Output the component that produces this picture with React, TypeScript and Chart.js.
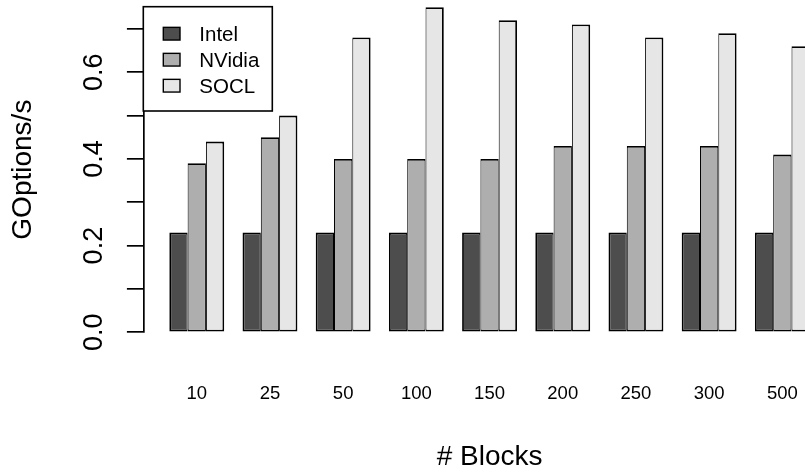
import React, { useEffect, useRef } from 'react';
import { Chart, registerables } from 'chart.js';

Chart.register(...registerables);

// ---- data ----
const blocks = ['10', '25', '50', '100', '150', '200', '250', '300', '500'];
const intel = [0.23, 0.23, 0.23, 0.23, 0.23, 0.23, 0.23, 0.23, 0.23];
const nvidia = [0.39, 0.45, 0.40, 0.40, 0.40, 0.43, 0.43, 0.43, 0.41];
const socl = [0.44, 0.50, 0.68, 0.75, 0.72, 0.71, 0.68, 0.69, 0.66];
const seriesNames = ['Intel', 'NVidia', 'SOCL'];
const seriesColors = ['#4D4D4D', '#AEAEAE', '#E6E6E6'];
const yTickValues = [0, 0.1, 0.2, 0.3, 0.4, 0.5, 0.6, 0.7];
const yLabelledTicks = [0, 0.2, 0.4, 0.6];
const xTitle = '# Blocks';
const yTitle = 'GOptions/s';

const FONT = '"Liberation Sans", Arial, Helvetica, sans-serif';
const OUT = 1.8;
const IN = 1.0;
const borderSides = [
  { left: OUT, right: IN, top: OUT, bottom: OUT },
  { left: IN, right: IN, top: OUT, bottom: OUT },
  { left: IN, right: OUT, top: OUT, bottom: OUT },
];

const rLegend = {
  id: 'rLegend',
  afterDraw(chart: any) {
    const { ctx, chartArea } = chart;
    const x0 = chartArea.left - 0.4;
    const y0 = chartArea.top - 0.3;
    const w = 129;
    const h = 104.3;
    ctx.save();
    ctx.fillStyle = '#ffffff';
    ctx.fillRect(x0, y0, w, h);
    ctx.lineWidth = 1.6;
    ctx.strokeStyle = '#000000';
    ctx.strokeRect(x0, y0, w, h);
    chart.data.datasets.forEach((ds: any, i: number) => {
      const cy = y0 + 27 + 26 * i;
      ctx.fillStyle = ds.backgroundColor;
      ctx.fillRect(x0 + 20, cy - 6.35, 16.7, 12.7);
      ctx.lineWidth = 1.4;
      ctx.strokeStyle = '#000000';
      ctx.strokeRect(x0 + 20, cy - 6.35, 16.7, 12.7);
      ctx.fillStyle = '#000000';
      ctx.font = `20.5px ${FONT}`;
      ctx.textBaseline = 'alphabetic';
      ctx.textAlign = 'left';
      ctx.fillText(ds.label, x0 + 56, cy + 7.3);
    });
    ctx.restore();
  },
};

const zeroPadding = (scale: any) => {
  scale.paddingLeft = 0;
  scale.paddingRight = 0;
  scale.paddingTop = 0;
  scale.paddingBottom = 0;
};

export default function App() {
  const ref = useRef<HTMLCanvasElement | null>(null);

  useEffect(() => {
    if (!ref.current) return;
    const series = [intel, nvidia, socl];
    const chart = new Chart(ref.current, {
      type: 'bar',
      data: {
        datasets: series.map((vals, s) => ({
          label: seriesNames[s],
          data: vals.map((v, i) => ({ x: i, y: v })),
          backgroundColor: seriesColors[s],
          borderColor: '#000000',
          borderWidth: borderSides[s],
          borderSkipped: false,
          categoryPercentage: 0.75,
          barPercentage: 1,
        })),
      },
      options: {
        animation: false,
        responsive: false,
        devicePixelRatio: 1,
        events: [],
        layout: { padding: { left: 0, top: 7, right: 14.6, bottom: 0 } },
        plugins: {
          legend: { display: false },
          tooltip: { enabled: false },
          title: { display: false },
        },
        scales: {
          x: {
            type: 'linear',
            position: 'bottom',
            offset: false,
            min: -0.725,
            max: 8.725,
            afterBuildTicks: (scale: any) => {
              scale.ticks = blocks.map((_, i) => ({ value: i }));
            },
            afterFit: (scale: any) => {
              scale.height = 143.7;
              zeroPadding(scale);
            },
            grid: { display: false, offset: false },
            border: { display: false },
            ticks: {
              autoSkip: false,
              maxRotation: 0,
              minRotation: 0,
              padding: 42.3,
              color: '#000000',
              font: { family: FONT, size: 18.5 },
              callback: (v: any) => blocks[Math.round(Number(v))] ?? '',
            },
            title: {
              display: true,
              text: xTitle,
              color: '#000000',
              font: { family: FONT, size: 28 },
              padding: { top: 0, bottom: 2.4 },
            },
          },
          y: {
            type: 'linear',
            position: 'left',
            min: 0,
            max: 0.7505,
            afterBuildTicks: (scale: any) => {
              scale.ticks = yTickValues.map((v) => ({ value: v }));
            },
            afterFit: (scale: any) => {
              scale.width = 143.7;
              zeroPadding(scale);
            },
            grid: {
              display: true,
              drawOnChartArea: false,
              drawTicks: true,
              tickLength: 16.8,
              color: '#000000',
              lineWidth: 1.7,
            },
            border: { display: true, color: '#000000', width: 1.7 },
            ticks: {
              autoSkip: false,
              minRotation: 90,
              maxRotation: 90,
              crossAlign: 'center',
              padding: 13.6,
              color: '#000000',
              font: { family: FONT, size: 27 },
              callback: (v: any) => {
                const n = Number(v);
                return yLabelledTicks.some((t) => Math.abs(t - n) < 1e-9) ? n.toFixed(1) : '';
              },
            },
            title: {
              display: true,
              text: yTitle,
              color: '#000000',
              font: { family: FONT, size: 28 },
              padding: { top: 6.5, bottom: 0 },
            },
          },
        },
      } as any,
      plugins: [rLegend],
    });
    return () => chart.destroy();
  }, []);

  return (
    <div
      style={{
        position: 'fixed',
        left: 0,
        top: 0,
        width: 805,
        height: 476,
        overflow: 'hidden',
        background: '#ffffff',
      }}
    >
      <canvas ref={ref} width={850} height={476} style={{ display: 'block', width: 850, height: 476 }} />
    </div>
  );
}
